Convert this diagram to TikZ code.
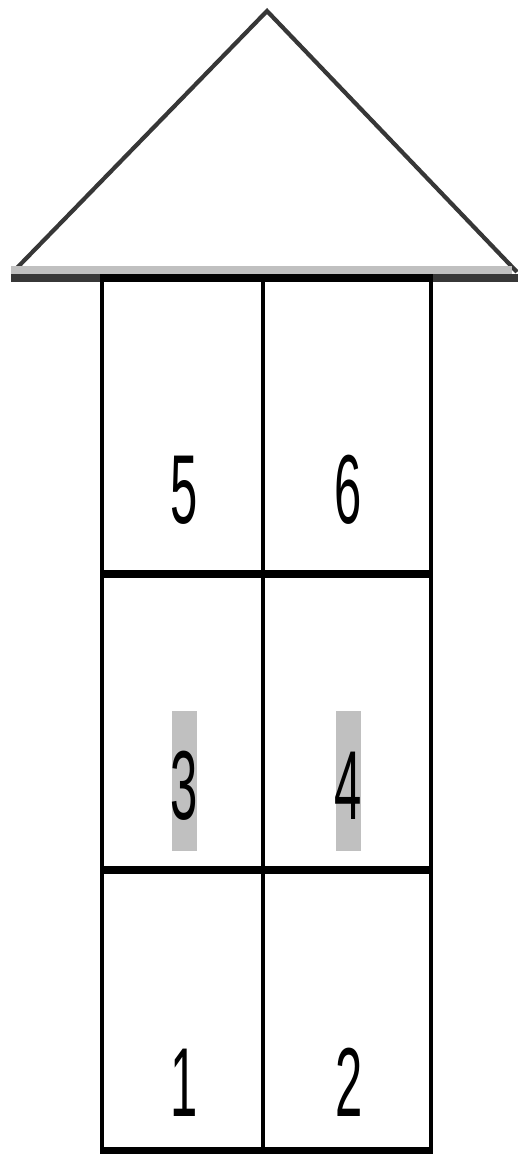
\documentclass[tikz,border=0pt]{standalone}
\usepackage{fontspec}
\setmainfont{Liberation Sans}
\definecolor{hlgray}{RGB}{192,192,192}
\definecolor{roofdark}{RGB}{55,55,55}
\begin{document}
\begin{tikzpicture}[x=1pt,y=-1pt,
  vline/.style={line width=4pt,black},
  hline/.style={line width=8pt,black},
  digit/.style={anchor=base,inner sep=0pt,font=\fontsize{98}{98}\selectfont,xscale=0.5},
  hl/.style={fill=hlgray,draw=none}]
\useasboundingbox (0,0) rectangle (518,1154);
% roof
\coordinate (apex) at (267,11);
\coordinate (bl) at (13,272);
\coordinate (br) at (517,272);
\draw[roofdark,line width=4.2pt,line join=miter] (bl) -- (apex) -- (br);
\fill[hlgray] (11,266) rectangle (512,273.5);
\fill[roofdark] (11,273.5) rectangle (518,281.5);
% highlights
\fill[hl] (172,711) rectangle (197,851);
\fill[hl] (336,711) rectangle (361,851);
% grid
\coordinate (tl) at (102,277);
\coordinate (tr) at (431,277);
\coordinate (tm) at (263,277);
\coordinate (bL) at (102,1150.5);
\coordinate (bR) at (431,1150.5);
\coordinate (bM) at (263,1150.5);
\fill[black] (100,273.5) rectangle (433,281.5);
\draw[vline] (tl) -- (bL);
\draw[vline] (tr) -- (bR);
\draw[vline] (tm) -- (bM);
\draw[hline] (100,574) -- (433,574);
\draw[hline] (100,870) -- (433,870);
\draw[line width=7pt] (100,1150.5) -- (433,1150.5);
% digits
\node[digit] (n5) at (184.5,523) {5};
\node[digit] (n6) at (348.5,523) {6};
\node[digit] (n3) at (184.5,819.5) {3};
\node[digit] (n4) at (348.5,819.5) {4};
\node[digit] (n1) at (184.5,1116) {1};
\node[digit] (n2) at (349,1116) {2};
\end{tikzpicture}
\end{document}
